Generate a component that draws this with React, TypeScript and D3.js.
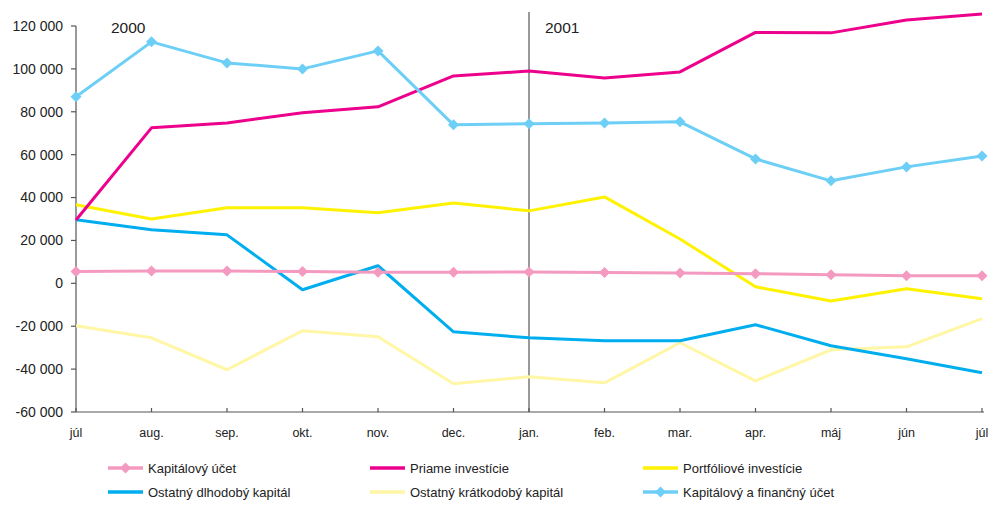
import React from "react";
import * as d3 from "d3";

const months = ["júl", "aug.", "sep.", "okt.", "nov.", "dec.", "jan.", "feb.", "mar.", "apr.", "máj", "jún", "júl"];
const yTicks = [-60000, -40000, -20000, 0, 20000, 40000, 60000, 80000, 100000, 120000];

const kapitalovyUcet = [5500, 5800, 5700, 5500, 5200, 5200, 5300, 5000, 4800, 4500, 4000, 3500, 3500];
const priameInvesticie = [29500, 72500, 74800, 79500, 82300, 96700, 99000, 95800, 98600, 117000, 116800, 122800, 125600];
const portfolioveInvesticie = [36600, 30000, 35200, 35200, 32900, 37500, 33800, 40300, 20700, -1600, -8200, -2500, -7200];
const dlhodobyKapital = [29600, 25000, 22600, -3000, 8200, -22600, -25400, -26800, -26800, -19300, -29100, -35200, -41700];
const kratkodobyKapital = [-19800, -25400, -40300, -22100, -24900, -46800, -43600, -46400, -27700, -45500, -31000, -29600, -16500];
const kapitalovyFinancny = [87000, 112600, 102800, 100000, 108400, 73900, 74400, 74800, 75300, 58000, 47800, 54300, 59400];

const series = [
  { name: "Ostatný krátkodobý kapitál", values: kratkodobyKapital, color: "#fff6a6", marker: false },
  { name: "Ostatný dlhodobý kapitál", values: dlhodobyKapital, color: "#00aeef", marker: false },
  { name: "Portfóliové investície", values: portfolioveInvesticie, color: "#fff200", marker: false },
  { name: "Kapitálový účet", values: kapitalovyUcet, color: "#f49ac1", marker: true },
  { name: "Priame investície", values: priameInvesticie, color: "#ec008c", marker: false },
  { name: "Kapitálový a finančný účet", values: kapitalovyFinancny, color: "#6dcff6", marker: true },
];

const legendOrder = [
  ["Kapitálový účet", "Priame investície", "Portfóliové investície"],
  ["Ostatný dlhodobý kapitál", "Ostatný krátkodobý kapitál", "Kapitálový a finančný účet"],
];

const fmt = (v: number) => {
  const s = Math.abs(v).toString();
  const withSpace = s.replace(/\B(?=(\d{3})+(?!\d))/g, " ");
  return (v < 0 ? "-" : "") + withSpace;
};

const diamond = (cx: number, cy: number, r: number) =>
  `M${cx},${cy - r}L${cx + r},${cy}L${cx},${cy + r}L${cx - r},${cy}Z`;

export default function App() {
  const W = 993, H = 530;
  const x = d3.scaleLinear().domain([0, months.length - 1]).range([76, 982]);
  const y = d3.scaleLinear().domain([-60000, 120000]).range([412, 26]);
  const line = d3.line<number>().x((_, i) => x(i)).y((d) => y(d));
  const font = "'Liberation Sans', Arial, Helvetica, sans-serif";
  const byName = Object.fromEntries(series.map((s) => [s.name, s]));
  const legendCols = [108, 370, 643];
  const legendRows = [468, 492];

  return (
    <svg width={W} height={H} style={{ position: "absolute", left: 0, top: 0, background: "#fff" }} fontFamily={font}>
      {/* y axis */}
      <line x1={76} x2={76} y1={y(120000)} y2={y(-60000)} stroke="#555" strokeWidth={1.2} />
      {yTicks.map((t) => (
        <g key={t}>
          <line x1={71} x2={76} y1={y(t)} y2={y(t)} stroke="#555" strokeWidth={1.2} />
          <text x={63} y={y(t)} dy="0.35em" textAnchor="end" fontSize={14} fill="#222">{fmt(t)}</text>
        </g>
      ))}
      {/* x axis */}
      <line x1={76} x2={984} y1={412} y2={412} stroke="#555" strokeWidth={1.2} />
      {months.map((m, i) => (
        <g key={i}>
          <line x1={x(i)} x2={x(i)} y1={408} y2={412} stroke="#555" strokeWidth={1.2} />
          <text x={x(i)} y={437} textAnchor="middle" fontSize={12.5} fill="#222">{m}</text>
        </g>
      ))}
      {/* year divider */}
      <line x1={x(6)} x2={x(6)} y1={12} y2={412} stroke="#555" strokeWidth={1.2} />
      <text x={111} y={33} fontSize={15.5} fill="#222">2000</text>
      <text x={545} y={33} fontSize={15.5} fill="#222">2001</text>
      {/* series */}
      {series.map((s) => (
        <g key={s.name}>
          <path d={line(s.values) || ""} fill="none" stroke={s.color} strokeWidth={3} strokeLinejoin="round" />
          {s.marker && s.values.map((v, i) => (
            <path key={i} d={diamond(x(i), y(v), 5.5)} fill={s.color} />
          ))}
        </g>
      ))}
      {/* legend */}
      {legendOrder.map((row, ri) =>
        row.map((name, ci) => {
          const s = byName[name];
          const lx = legendCols[ci];
          const ly = legendRows[ri];
          return (
            <g key={name}>
              <line x1={lx} x2={lx + 35} y1={ly} y2={ly} stroke={s.color} strokeWidth={3.5} />
              {s.marker && <path d={diamond(lx + 17.5, ly, 5.5)} fill={s.color} />}
              <text x={lx + 40} y={ly} dy="0.35em" fontSize={13} fill="#222">{name}</text>
            </g>
          );
        })
      )}
    </svg>
  );
}
